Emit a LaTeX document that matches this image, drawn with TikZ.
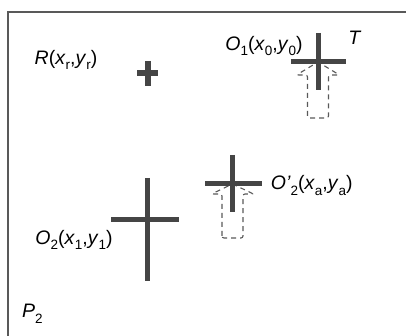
\documentclass[tikz,border=0pt]{standalone}
\usepackage{fontspec}
\setmainfont{Liberation Sans}
\newcommand{\lblsub}[1]{\raisebox{-0.28em}{\fontsize{13.5}{14}\selectfont #1}}
\begin{document}
\begin{tikzpicture}[x=1pt,y=-1pt,
  framecol/.style={draw=black!65,line width=1.6pt},
  crossbar/.style={draw=black!73,line width=5pt},
  ghost/.style={draw=black!65,line width=1.1pt,dash pattern=on 5pt off 4pt,rounded corners=2pt},
  lbl/.style={inner sep=0pt,font=\fontsize{19.5}{22}\selectfont}]
\useasboundingbox (0,0) rectangle (406,336);
\draw[framecol] (8,337) -- (8,12) -- (407,12);
% ghost arrows
\draw[ghost] (307.5,118) -- (307.5,75) -- (296.5,75) -- (318,62) -- (339.5,75) -- (328.5,75) -- (328.5,118) -- cycle;
\draw[ghost] (222,238) -- (222,194) -- (211.5,194) -- (232.5,184) -- (253.5,194) -- (243,194) -- (243,238) -- cycle;
% crosses
\draw[crossbar,line width=6pt] (137,73.5) -- (158,73.5) (147.5,61) -- (147.5,86);
\draw[crossbar] (290.7,61.7) -- (346,61.7) (318,33) -- (318,90);
\draw[crossbar] (205,184) -- (261.7,184) (232.5,155) -- (232.5,212);
\draw[crossbar] (111,219.5) -- (179,219.5) (147.5,178) -- (147.5,281);
% labels
\node[lbl] (lr) at (66,60) {\textit{R}(\textit{x}\lblsub{r},\textit{y}\lblsub{r})};
\node[lbl] (lo1) at (264,46) {\textit{O}\lblsub{1}(\textit{x}\lblsub{0},\textit{y}\lblsub{0})};
\node[lbl] (lt) at (355,38) {\textit{T}};
\node[lbl] (lo2p) at (311.7,185.5) {\textit{O\char"27}\lblsub{2}(\textit{x}\lblsub{a},\textit{y}\lblsub{a})};
\node[lbl] (lo2) at (74,240) {\textit{O}\lblsub{2}(\textit{x}\lblsub{1},\textit{y}\lblsub{1})};
\node[lbl] (lp2) at (32.5,314) {\textit{P}\lblsub{2}};
\end{tikzpicture}
\end{document}
